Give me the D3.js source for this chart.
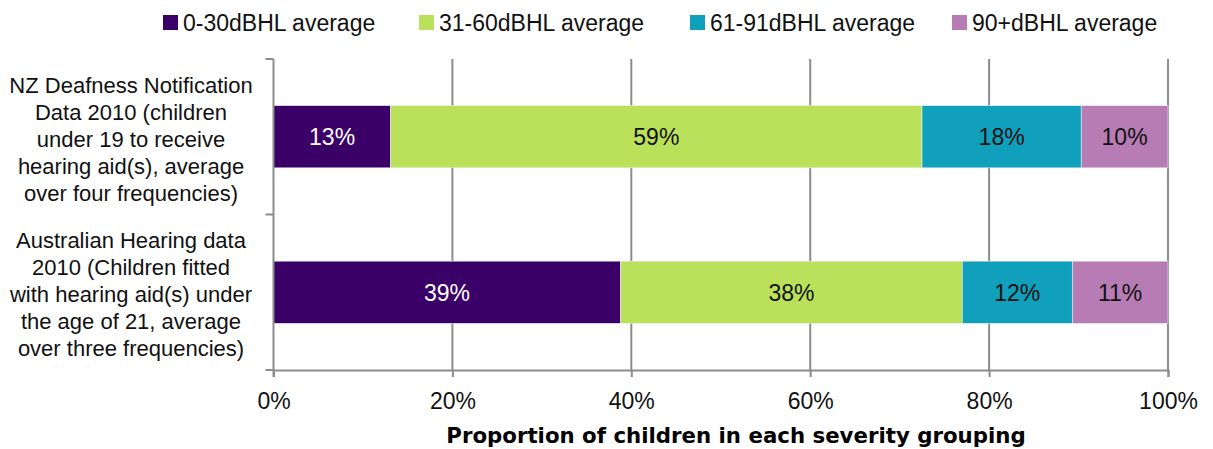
<!DOCTYPE html>
<html>
<head>
<meta charset="utf-8">
<script src="https://cdn.jsdelivr.net/npm/d3@7"></script>
<style>
body { margin: 0; background: #fff; }
text { font-family: "Liberation Sans", sans-serif; }
</style>
</head>
<body>
<div class="container"></div>
<script>
const W = 1213, H = 449;
const MARGIN = {left: 273.5, right: 45, top: 59, bottom: 79};

var categories = [
    ["NZ Deafness Notification", "Data 2010 (children", "under 19 to receive", "hearing aid(s), average", "over four frequencies)"],
    ["Australian Hearing data", "2010 (Children fitted", "with hearing aid(s) under", "the age of 21, average", "over three frequencies)"]
];
var seriesNames = ["0-30dBHL average", "31-60dBHL average", "61-91dBHL average", "90+dBHL average"];
var seriesColors = ["#3b0068", "#bbe15a", "#11a0bb", "#b77cb4"];
var labelColors = ["#fff", "#111", "#111", "#111"];
var nzValues = [13.1, 59.4, 17.8, 9.7];
var auValues = [38.8, 38.2, 12.3, 10.7];
var xTicks = [0, 20, 40, 60, 80, 100];
var xTitle = "Proportion of children in each severity grouping";

var draw = function(){
    var svg = d3.select(".container").append("svg")
        .attr("width", W)
        .attr("height", H);

    var x = d3.scaleLinear()
        .domain([0, 100])
        .range([MARGIN.left, W - MARGIN.right]);
    var y = d3.scaleBand()
        .domain([0, 1])
        .range([MARGIN.top, H - MARGIN.bottom])
        .paddingInner(0.6)
        .paddingOuter(0.3);

    var rows = [nzValues, auValues];
    var color = d3.scaleOrdinal().domain(d3.range(4)).range(seriesColors);

    // gridlines
    svg.append("g").selectAll("line")
        .data(xTicks.slice(1))
        .join("line")
        .attr("x1", d => x(d)).attr("x2", d => x(d))
        .attr("y1", MARGIN.top).attr("y2", H - MARGIN.bottom)
        .attr("stroke", "#8c8c8c").attr("stroke-width", 2);

    // stacked bars
    rows.forEach(function(vals, i){
        var start = 0;
        var g = svg.append("g");
        vals.forEach(function(v, j){
            var x0 = x(start), x1 = x(start + v);
            g.append("rect")
                .attr("x", x0).attr("y", y(i))
                .attr("width", x1 - x0).attr("height", y.bandwidth())
                .attr("fill", color(j))
                .attr("stroke", "#e8eef5").attr("stroke-width", 0.6);
            g.append("text")
                .attr("x", (x0 + x1) / 2)
                .attr("y", y(i) + y.bandwidth() / 2)
                .attr("dy", "0.36em")
                .attr("text-anchor", "middle")
                .attr("font-size", 23)
                .attr("fill", labelColors[j])
                .text(Math.round(v) + "%");
            start += v;
        });
    });

    // x axis
    var xAxis = d3.axisBottom(x)
        .tickValues(xTicks)
        .tickSize(7)
        .tickFormat(d => d + "%");
    var gx = svg.append("g")
        .attr("transform", "translate(0," + (H - MARGIN.bottom) + ")")
        .call(xAxis);
    gx.select(".domain").attr("stroke", "#8c8c8c").attr("stroke-width", 2);
    gx.selectAll(".tick line").attr("stroke", "#8c8c8c").attr("stroke-width", 2);
    gx.selectAll(".tick text")
        .attr("font-size", 23)
        .attr("fill", "#111")
        .attr("y", 23)
        .style("font-family", "Liberation Sans, sans-serif");

    // y axis line with between-category ticks
    var yEdges = [MARGIN.top, (y(0) + y.bandwidth() + y(1)) / 2, H - MARGIN.bottom];
    var gy = svg.append("g");
    gy.append("line")
        .attr("x1", MARGIN.left).attr("x2", MARGIN.left)
        .attr("y1", MARGIN.top).attr("y2", H - MARGIN.bottom + 7)
        .attr("stroke", "#8c8c8c").attr("stroke-width", 2);
    gy.selectAll("line.tk")
        .data(yEdges)
        .join("line")
        .attr("class", "tk")
        .attr("x1", MARGIN.left - 8).attr("x2", MARGIN.left)
        .attr("y1", d => d).attr("y2", d => d)
        .attr("stroke", "#8c8c8c").attr("stroke-width", 2);

    // category labels
    categories.forEach(function(lines, i){
        var cy = y(i) + y.bandwidth() / 2 + 2;
        var lh = 27;
        var t = svg.append("text")
            .attr("text-anchor", "middle")
            .attr("font-size", 22)
            .attr("fill", "#111");
        lines.forEach(function(l, k){
            t.append("tspan")
                .attr("x", 131)
                .attr("y", cy + (k - (lines.length - 1) / 2) * lh)
                .attr("dy", "0.36em")
                .text(l);
        });
    });

    // x title
    svg.append("text")
        .attr("x", 736)
        .attr("y", 443)
        .attr("text-anchor", "middle")
        .style("font-family", "'DejaVu Sans', sans-serif")
        .attr("font-weight", "bold")
        .attr("font-size", 21.3)
        .attr("fill", "#000")
        .text(xTitle);

    // legend
    var legendX = [163, 419, 690, 952];
    var lg = svg.append("g");
    seriesNames.forEach(function(name, j){
        lg.append("rect")
            .attr("x", legendX[j]).attr("y", 15)
            .attr("width", 15).attr("height", 15)
            .attr("fill", seriesColors[j]);
        lg.append("text")
            .attr("x", legendX[j] + 20).attr("y", 22.5)
            .attr("dy", "0.36em")
            .attr("font-size", 23)
            .attr("fill", "#111")
            .text(name);
    });
}

window.onload = draw;
</script>
</body>
</html>
